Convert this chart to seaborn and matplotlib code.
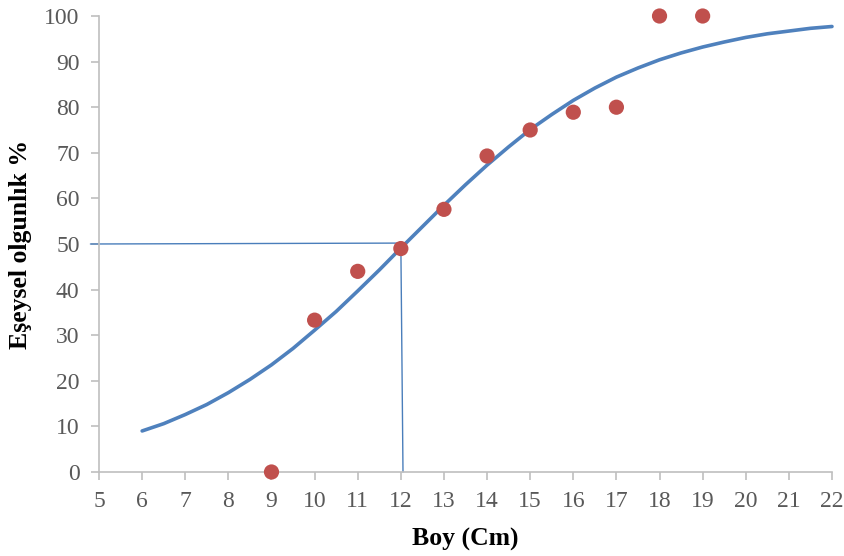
import matplotlib
matplotlib.use("Agg")
import matplotlib.pyplot as plt
import seaborn as sns
import pandas as pd

# Observed maturity points
boy = [9, 10, 11, 12, 13, 14, 15, 16, 17, 18, 19]
olgunluk = [0, 33.3, 44.0, 49.0, 57.6, 69.3, 75.0, 78.9, 80.0, 100, 100]

# Fitted curve, every half cm
curve_x = [6, 6.5, 7, 7.5, 8, 8.5, 9, 9.5, 10, 10.5, 11, 11.5, 12, 12.5, 13, 13.5,
           14, 14.5, 15, 15.5, 16, 16.5, 17, 17.5, 18, 18.5, 19, 19.5, 20, 20.5,
           21, 21.5, 22]
curve_y = [9.0, 10.6, 12.6, 14.8, 17.4, 20.3, 23.5, 27.1, 31.1, 35.2, 39.7, 44.3,
           49.1, 53.8, 58.5, 63.0, 67.3, 71.3, 75.1, 78.4, 81.5, 84.2, 86.6, 88.6,
           90.4, 91.9, 93.2, 94.3, 95.3, 96.1, 96.7, 97.3, 97.7]

# L50 guide lines
h_x = [4.8, 12.0]
h_y = [50.0, 50.2]
v_x = [12.0, 12.05]
v_y = [50.2, 0]

sns.set_theme(style="white")
plt.rcParams['font.family'] = ['Liberation Serif', 'DejaVu Serif']

fig = plt.figure(figsize=(8.45, 5.56), dpi=100)
ax = fig.add_axes([0.1172, 0.1511, 0.8674, 0.8201])

curve = pd.DataFrame({"x": curve_x, "y": curve_y})
pts = pd.DataFrame({"x": boy, "y": olgunluk})

sns.lineplot(data=curve, x="x", y="y", ax=ax, color="#4f81bd", linewidth=2.6,
             sort=False, clip_on=False)
ax.plot(h_x, h_y, color="#4a7ebb", linewidth=1.0, clip_on=False)
ax.plot(v_x, v_y, color="#4a7ebb", linewidth=1.0, clip_on=False)
sns.scatterplot(data=pts, x="x", y="y", ax=ax, color="#c0504d", s=120,
                edgecolor="none", zorder=5, clip_on=False)

ax.set_xlim(5, 22)
ax.set_ylim(0, 100)
ax.set_xticks(range(5, 23))
ax.set_yticks(range(0, 101, 10))

for side in ["top", "right"]:
    ax.spines[side].set_visible(False)
for side in ["left", "bottom"]:
    ax.spines[side].set_color("#bfbfbf")
    ax.spines[side].set_linewidth(1.2)

ax.tick_params(axis="both", which="major", length=6, width=1.2, color="#bfbfbf",
               labelsize=17, labelcolor="#595959", direction="out",
               bottom=True, left=True)
ax.tick_params(axis="x", pad=8)
ax.tick_params(axis="y", pad=8)

ax.set_xlabel("Boy (Cm)", fontsize=18.5, fontweight="bold", color="black", labelpad=11)
ax.set_ylabel("Eşeysel olgunlık %", fontsize=18.5, fontweight="bold", color="black", labelpad=9)

fig.savefig("out.png", dpi=100)
